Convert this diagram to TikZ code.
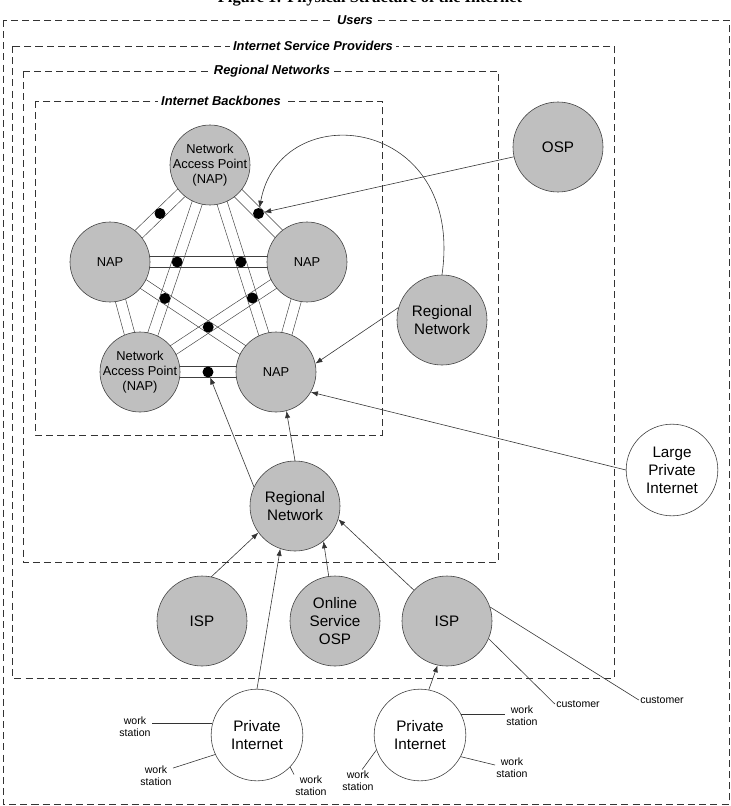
\documentclass[tikz,border=0pt]{standalone}
\usepackage{fontspec}
\setmainfont{Liberation Sans}
\newfontfamily\titlefont{Liberation Serif}
\usetikzlibrary{arrows.meta,backgrounds,calc}

\begin{document}
\begin{tikzpicture}[x=0.03cm,y=-0.03cm,line width=0.5pt,
   >={Latex[length=6pt,width=4.5pt]},
   frame/.style={draw=black!80,dash pattern=on 6pt off 3.5pt},
   frametitle/.style={fill=white,inner sep=2.5pt,font=\bfseries\itshape\fontsize{11}{13}\selectfont},
   nap/.style={circle,draw=black!75,fill=black!25,minimum size=2.4cm,inner sep=0pt,align=center,font=\fontsize{11}{13}\selectfont},
   naptext/.style={align=center,inner sep=0pt,font=\fontsize{11}{13}\selectfont},
   hub/.style={circle,draw=black!75,fill=black!25,minimum size=2.7cm,inner sep=0pt,align=center,font=\fontsize{13}{15.5}\selectfont},
   priv/.style={hub,fill=white,minimum size=2.75cm},
   dot/.style={circle,fill=black,minimum size=0.33cm,inner sep=0pt},
   small/.style={align=center,inner sep=1pt,font=\fontsize{9}{10.5}\selectfont}]

   \useasboundingbox (0,0) rectangle (731,806);

   \node[anchor=base,font=\titlefont\bfseries\fontsize{14}{16}\selectfont] (title) at (370,2.5) {Figure 1: Physical Structure of the Internet};

%  nested areas
   \draw[frame] (3,20) rectangle (729,804);
   \node[frametitle] (users) at (355,20) {Users};
   \draw[frame] (12,46) rectangle (614,678);
   \node[frametitle] (isps) at (313,46) {Internet Service Providers};
   \draw[frame] (23,71) rectangle (498,562);
   \node[frametitle] (regionals) at (272,71) {Regional Networks};
   \draw[frame] (35,101) rectangle (382,435);
   \node[frametitle] (backbones) at (221,101) {Internet Backbones};

%  backbone access points
   \node[nap] (napT) at (210,165) {};
   \node[naptext] (napTtext) at (napT) {Network\\Access Point\\(NAP)};
   \node[nap] (napL) at (110,262) {NAP};
   \node[nap] (napR) at (307,262) {NAP};
   \node[nap] (napBL) at (140,372) {};
   \node[naptext] (napBLtext) at (napBL) {Network\\Access Point\\(NAP)};
   \node[nap] (napBR) at (276,372) {NAP};

   \begin{scope}[on background layer]
   \foreach \a/\b in {napT/napL,napT/napR,napT/napBL,napT/napBR,napL/napR,
                      napL/napBL,napL/napBR,napR/napBL,napR/napBR,napBL/napBR}
      \draw[black!75] ($(\a)!4.5pt!90:(\b)$) -- ($(\b)!4.5pt!-90:(\a)$)
                      ($(\a)!4.5pt!-90:(\b)$) -- ($(\b)!4.5pt!90:(\a)$);
   \end{scope}

   \node[dot] (dTL) at ($(napT)!.5!(napL)$) {};
   \node[dot] (dTR) at ($(napT)!.5!(napR)$) {};
   \node[dot] (dBot) at ($(napBL)!.5!(napBR)$) {};
   \node[dot] (dX1) at (intersection of napT--napBL and napL--napR) {};
   \node[dot] (dX2) at (intersection of napT--napBR and napL--napR) {};
   \node[dot] (dX3) at (intersection of napT--napBL and napL--napBR) {};
   \node[dot] (dX4) at (intersection of napT--napBR and napR--napBL) {};
   \node[dot] (dX5) at (intersection of napL--napBR and napR--napBL) {};

%  providers
   \node[hub] (osp) at (558,147) {OSP};
   \node[hub] (rnR) at (442,320) {Regional\\Network};
   \node[priv] (lpi) at (672,470) {Large\\Private\\Internet};
   \node[hub] (rnC) at (295,506) {Regional\\Network};
   \node[hub] (ispL) at (202,621) {ISP};
   \node[hub] (onl) at (335,621) {Online\\Service\\OSP};
   \node[hub] (ispR) at (447,621) {ISP};
   \node[priv] (piL) at (257,735) {Private\\Internet};
   \node[priv] (piR) at (420,735) {Private\\Internet};

   \node[small] (cust1) at (578,704) {customer};
   \node[small] (cust2) at (662,700) {customer};
   \node[small] (ws1) at (135,727) {work\\station};
   \node[small] (ws2) at (156,776) {work\\station};
   \node[small] (ws3) at (311,786) {work\\station};
   \node[small] (ws4) at (522,716) {work\\station};
   \node[small] (ws5) at (512,768) {work\\station};
   \node[small] (ws6) at (358,781) {work\\station};

%  connections
   \draw[->,black!80] (osp) -- (dTR);
   \draw[->,black!80] (rnR.north) .. controls (465,115) and (280,95) .. (dTR);
   \draw[->,black!80] (rnR.164) -- (napBR.12);
   \draw[->,black!80] (lpi.west) -- (napBR.-30);
   \draw[->,black!80] (rnC.north) -- (napBR.-75);
   \draw[->,black!80] (rnC.155) -- (dBot);
   \draw[->,black!80] (ispL.78) -- (rnC.216);
   \draw[->,black!80] (onl.98) -- (rnC.-51);
   \draw[->,black!80] (ispR.137) -- (rnC.-17);
   \draw[->,black!80] (piL.north) -- (rnC.-109);
   \draw[->,black!80] (piR.79) -- (ispR.-102);

   \draw[black!80] (ispR.-23) -- (cust1.west);
   \draw[black!80] (ispR.18) -- (cust2.west);
   \draw[black!80] (piL.165) -- (piL.165 -| ws1.east);
   \draw[black!80] (piL.205) -- (ws2.25);
   \draw[black!80] (piL.-44) -- (ws3.north west);
   \draw[black!80] (piR.27) -- (piR.27 -| ws4.west);
   \draw[black!80] (piR.-28) -- (ws5.170);
   \draw[black!80] (piR.199) -- (ws6.70);

\end{tikzpicture}
\end{document}
